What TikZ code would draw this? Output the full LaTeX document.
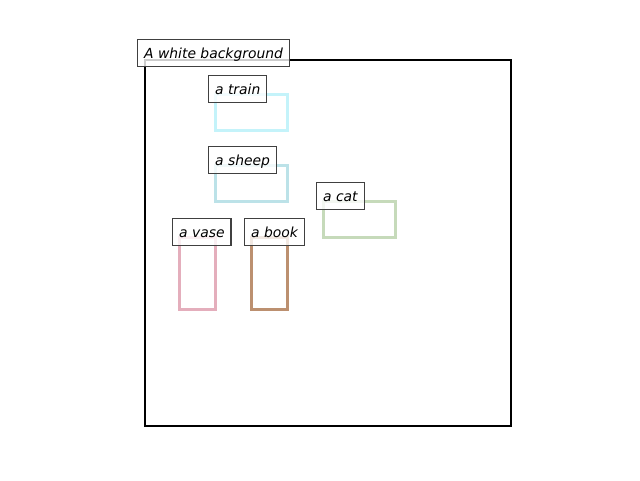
\documentclass[tikz,border=0pt]{standalone}
\usepackage{fontspec}
\setsansfont{DejaVu Sans}
\usepackage{tikz}
\usetikzlibrary{positioning}
\definecolor{trainc}{RGB}{196,243,250}
\definecolor{sheepc}{RGB}{188,226,232}
\definecolor{catc}{RGB}{198,218,186}
\definecolor{vasec}{RGB}{228,174,188}
\definecolor{bookc}{RGB}{188,144,112}
\definecolor{labc}{RGB}{64,64,64}

\begin{document}
\begin{tikzpicture}[
  x=1pt, y=-1pt,
  objbox/.style={draw,line width=3pt,inner sep=0pt,outer sep=0pt,
    minimum width=#1},
  wide/.style={objbox=72pt,minimum height=36pt},
  tall/.style={objbox=36pt,minimum height=72pt},
  lab/.style={draw=labc,line width=1.2pt,fill=white,fill opacity=0.8,
    text opacity=1,anchor=south west,inner xsep=6.5pt,inner ysep=0pt,
    minimum height=27pt,text height=14.5pt,text depth=3pt,
    font=\fontsize{13.9}{16}\sffamily\itshape}
]
\useasboundingbox (0,0) rectangle (640,480);
\node[draw=black,line width=2.4pt,inner sep=0pt,minimum size=366pt,
  anchor=north west] (bg) at (144,59) {};
\node[wide,draw=trainc,anchor=north west] (train) at (215,94) {};
\node[wide,draw=sheepc,anchor=north west] (sheep) at (215,165) {};
\node[wide,draw=catc,anchor=north west] (cat) at (323,201) {};
\node[tall,draw=vasec,anchor=north west] (vase) at (179,237) {};
\node[tall,draw=bookc,anchor=north west] (book) at (251,237) {};
\node[lab] (bglab) at ([shift={(-7,8)}]bg.north west) {A white background};
\node[lab] (trainlab) at ([shift={(-7,9)}]train.north west) {a train};
\node[lab] (sheeplab) at ([shift={(-7,9)}]sheep.north west) {a sheep};
\node[lab] (catlab) at ([shift={(-7,9)}]cat.north west) {a cat};
\node[lab] (vaselab) at ([shift={(-7,9)}]vase.north west) {a vase};
\node[lab] (booklab) at ([shift={(-7,9)}]book.north west) {a book};
\end{tikzpicture}
\end{document}
